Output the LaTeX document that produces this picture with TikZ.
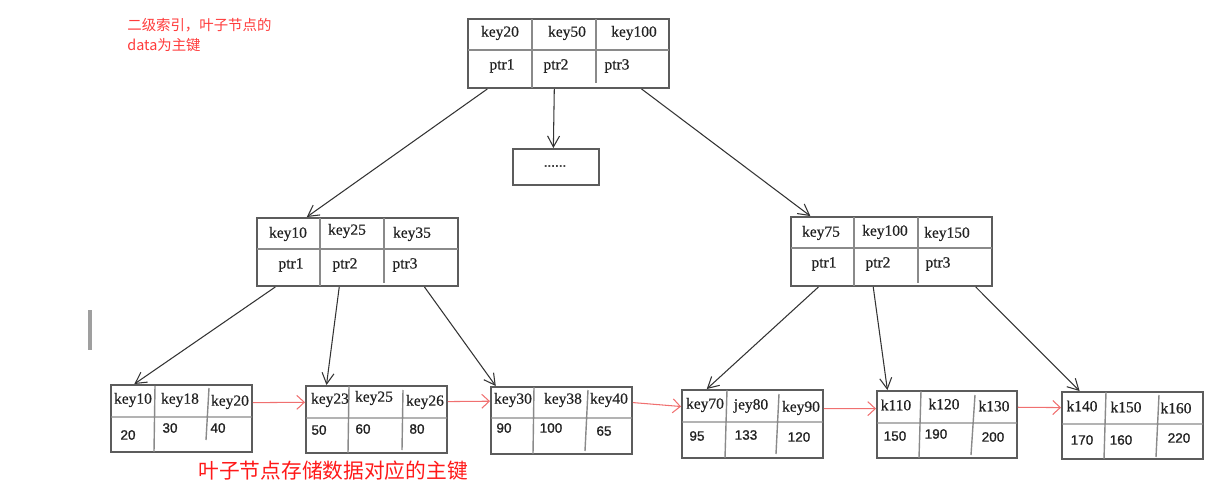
\documentclass[tikz,border=0pt]{standalone}
\usepackage{fontspec}
\setmainfont{Liberation Serif}
\newfontfamily\keyfont[FakeBold=0.6]{Liberation Serif}
\newfontfamily\numfont[FakeBold=1.2]{Liberation Sans}
\newfontfamily\cjkfont{Noto Sans CJK SC}
\usetikzlibrary{fit,calc,arrows.meta}
\definecolor{boxgray}{HTML}{5C5C5C}
\definecolor{cellgray}{HTML}{8A8A8A}
\definecolor{linkgray}{HTML}{333333}
\definecolor{nextred}{HTML}{F07070}
\definecolor{notered}{HTML}{FF3B3B}
\definecolor{txtblack}{HTML}{222222}

\begin{document}
\begin{tikzpicture} [
	x = 0.02cm, y = -0.02cm,
	bbox/.style = {draw=boxgray, line width=1.1pt, inner sep=0pt},
	cell/.style = {draw=cellgray, line width=0.8pt},
	keytxt/.style = {font=\keyfont\fontsize{8.8}{10}\selectfont, text=txtblack, inner sep=1pt},
	numtxt/.style = {font=\numfont\fontsize{7.7}{9}\selectfont, text=txtblack, inner sep=1pt},
	link/.style = {draw=linkgray, line width=0.6pt, -{Straight Barb[length=2.2mm, width=2.4mm]}},
	leafnext/.style = {draw=nextred, line width=0.6pt, -{Straight Barb[length=1.5mm, width=2.8mm]}},
	notetxt/.style = {font=\cjkfont\fontsize{8.2}{11.3}\selectfont, text=notered, inner sep=0pt, align=left}
]
\useasboundingbox (0,0) rectangle (1221,497);

% root node
\node (root) [bbox, fit={(468,19) (669,88)}] {};
\draw[cell] (468,50) -- (669,50) (532,19) -- (532,88) (596,19) -- (596,83);
\foreach \t/\x/\y [count=\i] in {key20/500/33, key50/567/33, key100/634/33,
	ptr1/502/66, ptr2/556/66, ptr3/617/66}
	\node (root-t\i) [keytxt] at (\x,\y) {\t};

% the skipped middle subtree
\node (more) [bbox, fit={(513,149) (599,185)}] {};
\node (more-t) [numtxt] at (555,166) {......};

% second level
\node (idxL) [bbox, fit={(257,218) (458,286)}] {};
\draw[cell] (257,249) -- (458,249) (320,218) -- (320,286) (384,218) -- (384,283);
\foreach \t/\x/\y [count=\i] in {key10/288/234, key25/347/231, key35/412/234,
	ptr1/291/265, ptr2/345/265, ptr3/405/265}
	\node (idxL-t\i) [keytxt] at (\x,\y) {\t};

\node (idxR) [bbox, fit={(791,217) (992,286)}] {};
\draw[cell] (791,248) -- (992,248) (854,217) -- (854,286) (918,217) -- (918,283);
\foreach \t/\x/\y [count=\i] in {key75/821/233, key100/885/232, key150/947/234,
	ptr1/824/264, ptr2/878/264, ptr3/938/264}
	\node (idxR-t\i) [keytxt] at (\x,\y) {\t};

% leaves
\node (leafA) [bbox, fit={(111,385) (252,452)}] {};
\draw[cell] (111,417) -- (252,417) (155,386) -- (154,452) (209,388) -- (206,440);
\node (leafB) [bbox, fit={(306,386) (447,453)}] {};
\draw[cell] (306,418) -- (447,418) (349,386) -- (348,453) (403,390) -- (402,450);
\node (leafC) [bbox, fit={(491,387) (632,454)}] {};
\draw[cell] (491,418) -- (632,418) (534,387) -- (533,454) (588,390) -- (585,451);
\node (leafD) [bbox, fit={(682,390) (823,458)}] {};
\draw[cell] (682,422) -- (823,422) (727,390) -- (725,458) (779,394) -- (776,454);
\node (leafE) [bbox, fit={(877,391) (1017,458)}] {};
\draw[cell] (877,423) -- (1017,423) (921,391) -- (919,458) (975,395) -- (971,455);
\node (leafF) [bbox, fit={(1062,392) (1203,459)}] {};
\draw[cell] (1062,424) -- (1203,424) (1106,392) -- (1104,459) (1159,395) -- (1156,457);

\foreach \t/\x/\y [count=\i] in {key10/133/400, key18/180/400, key20/230/402,
	key23/330/400, key25/374/398, key26/425/402,
	key30/513/400, key38/563/400, key40/609/400,
	key70/705/405, jey80/751/406, key90/801/408,
	k110/896/405, k120/944/404, k130/994/406,
	k140/1082/406, k150/1126/407, k160/1176/408}
	\node (leaf-k\i) [keytxt] at (\x,\y) {\t};
\foreach \t/\x/\y [count=\i] in {20/128/435, 30/170/428, 40/218/428,
	50/319/430, 60/363/429, 80/417/429,
	90/504/428, 100/551/428, 65/604/431,
	95/697/436, 133/746/435, 120/799/437,
	150/895/436, 190/936/434, 200/993/437,
	170/1082/440, 160/1121/440, 220/1179/438}
	\node (leaf-v\i) [numtxt] at (\x,\y) {\t};

% pointers
\draw[link] ($(root.south west)!0.10!(root.south east)$) -- ($(idxL.north west)!0.25!(idxL.north east)$);
\draw[link] ($(root.south west)!0.43!(root.south east)$) -- ($(more.north west)!0.47!(more.north east)$);
\draw[link] ($(root.south west)!0.86!(root.south east)$) -- ($(idxR.north west)!0.10!(idxR.north east)$);
\draw[link] ($(idxL.south west)!0.095!(idxL.south east)$) -- ($(leafA.north west)!0.17!(leafA.north east)$);
\draw[link] ($(idxL.south west)!0.41!(idxL.south east)$) -- ($(leafB.north west)!0.15!(leafB.north east)$);
\draw[link] ($(idxL.south west)!0.83!(idxL.south east)$) -- ($(leafC.north west)!0.04!(leafC.north east)$);
\draw[link] ($(idxR.south west)!0.14!(idxR.south east)$) -- ($(leafD.north west)!0.18!(leafD.north east)$);
\draw[link] ($(idxR.south west)!0.41!(idxR.south east)$) -- ($(leafE.north west)!0.08!(leafE.north east)$);
\draw[link] ($(idxR.south west)!0.915!(idxR.south east)$) -- ($(leafF.north west)!0.13!(leafF.north east)$);

% leaf chain
\draw[leafnext] ($(leafA.north east)!0.27!(leafA.south east)$) -- ($(leafB.north west)!0.25!(leafB.south west)$);
\draw[leafnext] ($(leafB.north east)!0.24!(leafB.south east)$) -- ($(leafC.north west)!0.22!(leafC.south west)$);
\draw[leafnext] ($(leafC.north east)!0.24!(leafC.south east)$) -- ($(leafD.north west)!0.25!(leafD.south west)$);
\draw[leafnext] ($(leafD.north east)!0.28!(leafD.south east)$) -- ($(leafE.north west)!0.27!(leafE.south west)$);
\draw[leafnext] ($(leafE.north east)!0.25!(leafE.south east)$) -- ($(leafF.north west)!0.24!(leafF.south west)$);

% notes
\node (note) [notetxt, anchor=west] at (127,35) {二级索引，叶子节点的\\data为主键};
\node (caption) [anchor=west, inner sep=0pt, text=red!90!white, font=\cjkfont\fontsize{11.8}{14}\selectfont] at (198,471) {叶子节点存储数据对应的主键};

\fill[gray!75] (88,310) rectangle (92,350);

\end{tikzpicture}
\end{document}
